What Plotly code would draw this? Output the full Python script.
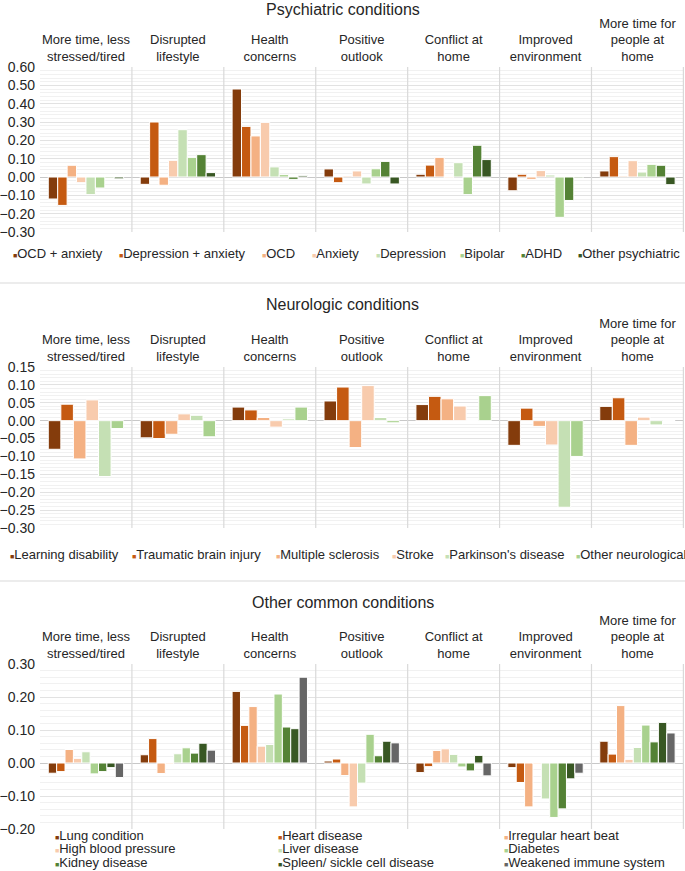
import plotly.graph_objects as go

W, H = 685, 871
FONT = "Liberation Sans, Arial, sans-serif"

categories = ["More time, less<br>stressed/tired", "Disrupted<br>lifestyle", "Health<br>concerns",
              "Positive<br>outlook", "Conflict at<br>home", "Improved<br>environment",
              "More time for<br>people at<br>home"]

# psychiatric conditions
ocd_anxiety = [-0.12, -0.04, 0.48, 0.044, 0.015, -0.075, 0.033]
depression_anxiety = [-0.155, 0.30, 0.276, -0.031, 0.065, 0.015, 0.111]
ocd = [0.064, -0.045, 0.224, 0.005, 0.107, -0.013, 0.005]
anxiety = [-0.031, 0.091, 0.298, 0.033, -0.005, 0.035, 0.089]
depression = [-0.096, 0.258, 0.055, -0.038, 0.078, 0.011, 0.027]
bipolar = [-0.06, 0.107, 0.013, 0.045, -0.096, -0.22, 0.069]
adhd = [-0.005, 0.122, -0.013, 0.085, 0.173, -0.128, 0.064]
other_psychiatric = [-0.01, 0.024, 0.007, -0.038, 0.095, -0.005, -0.042]

psych_names = ["OCD + anxiety", "Depression + anxiety", "OCD", "Anxiety", "Depression",
               "Bipolar", "ADHD", "Other psychiatric"]
psych_values = [ocd_anxiety, depression_anxiety, ocd, anxiety, depression, bipolar, adhd,
                other_psychiatric]

# neurologic conditions
learning_disability = [-0.08, -0.048, 0.038, 0.055, 0.045, -0.069, 0.04]
brain_injury = [0.046, -0.05, 0.03, 0.094, 0.068, 0.035, 0.064]
multiple_sclerosis = [-0.107, -0.038, 0.009, -0.075, 0.061, -0.016, -0.069]
stroke = [0.058, 0.019, -0.018, 0.098, 0.041, -0.068, 0.01]
parkinsons = [-0.156, 0.015, 0.005, 0.009, 0.0, -0.242, -0.012]
other_neurological = [-0.022, -0.045, 0.038, -0.006, 0.07, -0.1, 0.0]

neuro_names = ["Learning disability", "Traumatic brain injury", "Multiple sclerosis", "Stroke",
               "Parkinson's disease", "Other neurological"]
neuro_values = [learning_disability, brain_injury, multiple_sclerosis, stroke, parkinsons,
                other_neurological]

# other common conditions
lung = [-0.031, 0.025, 0.217, 0.006, -0.029, -0.014, 0.066]
heart = [-0.026, 0.074, 0.114, 0.012, -0.011, -0.059, 0.027]
irregular_heart = [0.041, -0.032, 0.171, -0.038, 0.038, -0.133, 0.174]
high_bp = [0.014, -0.003, 0.051, -0.133, 0.043, -0.003, 0.011]
liver = [0.034, 0.028, 0.056, -0.061, 0.026, -0.109, 0.047]
diabetes = [-0.033, 0.046, 0.209, 0.087, -0.012, -0.165, 0.115]
kidney = [-0.026, 0.03, 0.109, 0.022, -0.024, -0.139, 0.064]
spleen = [-0.014, 0.06, 0.104, 0.066, 0.023, -0.048, 0.123]
weakened_immune = [-0.044, 0.039, 0.26, 0.061, -0.039, -0.031, 0.091]

other_names = ["Lung condition", "Heart disease", "Irregular heart beat", "High blood pressure",
               "Liver disease", "Diabetes", "Kidney disease", "Spleen/ sickle cell disease",
               "Weakened immune system"]
other_values = [lung, heart, irregular_heart, high_bp, liver, diabetes, kidney, spleen,
                weakened_immune]

colors = ["#843c0c", "#c55a11", "#f4b183", "#f8cbad", "#c5e0b4", "#a9d18e", "#548235",
          "#385723", "#666666"]


def px(x):
    return x / W


def py(y):
    return 1 - y / H


panels = [
    # title, names, values, y range, dtick, minor, title y, plot top/bottom px, legend spots
    dict(title="Psychiatric conditions", names=psych_names, values=psych_values,
         yrange=[-0.3, 0.6], dtick=0.1, minor=0.02, title_y=9, top=67, bottom=232,
         legend=[(11, 253), (117, 253), (260, 253), (310, 253), (374, 253), (458, 253),
                 (519, 253), (576, 253)]),
    dict(title="Neurologic conditions", names=neuro_names, values=neuro_values,
         yrange=[-0.3, 0.15], dtick=0.05, minor=0.01, title_y=304, top=367, bottom=528,
         legend=[(8, 554), (130, 554), (274, 554), (390, 554), (443, 554), (574, 554)]),
    dict(title="Other common conditions", names=other_names, values=other_values,
         yrange=[-0.2, 0.3], dtick=0.1, minor=0.02, title_y=602, top=664, bottom=829,
         legend=[(53, 835), (276, 835), (502, 835), (53, 848), (276, 848), (502, 848),
                 (53, 862), (276, 862), (502, 862)]),
]

fig = go.Figure()
annotations = []
shapes = []

for i, p in enumerate(panels):
    n = i + 1
    xa = "x" if n == 1 else f"x{n}"
    ya = "y" if n == 1 else f"y{n}"
    for k, (name, vals) in enumerate(zip(p["names"], p["values"])):
        fig.add_trace(go.Bar(x=categories, y=vals, name=name, xaxis=xa, yaxis=ya,
                             marker=dict(color=colors[k], line=dict(color="white", width=1)),
                             showlegend=False))

    fig.update_layout(**{
        ("xaxis" if n == 1 else f"xaxis{n}"): dict(
            domain=[px(40), px(684)], anchor=ya, side="top", showgrid=False, zeroline=False,
            ticks="", showline=False, tickfont=dict(size=13, color="#262626"),
            ticklabelstandoff=2, automargin=False, fixedrange=True),
        ("yaxis" if n == 1 else f"yaxis{n}"): dict(
            domain=[py(p["bottom"]), py(p["top"])], anchor=xa, range=p["yrange"],
            dtick=p["dtick"], tickformat=".2f", showgrid=True, gridcolor="#e2e2e2",
            gridwidth=1, zeroline=True, zerolinecolor="#c8c8c8", zerolinewidth=1.2,
            minor=dict(dtick=p["minor"], showgrid=True, gridcolor="#f1f1f1", gridwidth=1),
            tickfont=dict(size=14, color="#262626"), ticks="", showline=False,
            ticklabelstandoff=4, automargin=False),
    })

    annotations.append(dict(text=p["title"], x=0.5, y=py(p["title_y"]), xref="paper",
                            yref="paper", xanchor="center", yanchor="middle", showarrow=False,
                            font=dict(size=16, color="#262626")))

    # category separators
    for c in range(len(categories)):
        shapes.append(dict(type="line", xref=xa, yref=f"{ya} domain", x0=c + 0.5, x1=c + 0.5,
                           y0=0, y1=1, line=dict(color="#d9d9d9", width=1.2)))

    # legend drawn as small squares + labels
    for k, (name, (lx, ly)) in enumerate(zip(p["names"], p["legend"])):
        annotations.append(dict(
            text=f"<span style='color:{colors[k]};font-size:7px'>■</span>{name}",
            x=px(lx), y=py(ly), xref="paper", yref="paper", xanchor="left",
            yanchor="middle", showarrow=False, font=dict(size=13, color="#262626")))

# light separators between panels
for sy in (283, 581):
    shapes.append(dict(type="line", xref="paper", yref="paper", x0=0, x1=1, y0=py(sy),
                       y1=py(sy), line=dict(color="#ececec", width=2)))

fig.update_layout(
    width=W, height=H, margin=dict(l=0, r=0, t=0, b=0),
    paper_bgcolor="white", plot_bgcolor="white",
    font=dict(family=FONT, color="#262626"),
    barmode="group", bargap=0.18, bargroupgap=0.0,
    annotations=annotations, shapes=shapes,
)

# drop the default page margin so the figure sits at the window's top-left corner
fig.write_html("out.html", config={"displayModeBar": False},
               post_script="document.body.style.margin = '0';")
